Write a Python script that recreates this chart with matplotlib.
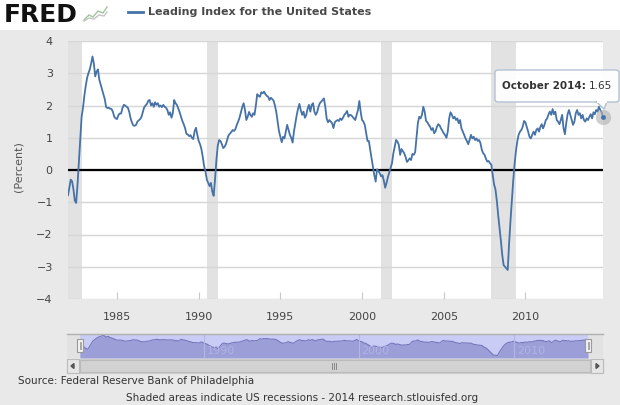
import matplotlib
matplotlib.use("Agg")
import matplotlib.pyplot as plt
from matplotlib.patches import Rectangle, FancyBboxPatch, Polygon
import numpy as np

# ---------------- data (monthly, Jan 1982 - Oct 2014) ----------------
start_year = 1982
leading_index = [
    -0.78, -0.55, -0.30, -0.35, -0.60, -0.95, -1.02, -0.45, 0.25, 1.00, 1.65, 1.92,   # 1982
    2.30, 2.60, 2.85, 3.00, 3.12, 3.30, 3.52, 3.30, 2.90, 3.05, 3.12, 2.80,           # 1983
    2.65, 2.50, 2.35, 2.20, 1.95, 1.92, 1.93, 1.90, 1.89, 1.80, 1.65, 1.60,           # 1984
    1.58, 1.70, 1.75, 1.75, 1.92, 2.02, 2.00, 1.96, 1.93, 1.80, 1.60, 1.47,           # 1985
    1.38, 1.37, 1.40, 1.50, 1.54, 1.58, 1.65, 1.80, 1.95, 2.00, 2.05, 2.15,           # 1986
    2.17, 2.00, 2.07, 1.96, 2.10, 2.02, 2.07, 1.96, 2.00, 1.95, 2.02, 1.96,           # 1987
    1.93, 1.86, 1.71, 1.79, 1.62, 1.76, 2.17, 2.07, 2.02, 1.91, 1.79, 1.65,           # 1988
    1.52, 1.42, 1.30, 1.12, 1.10, 1.05, 1.08, 1.00, 0.96, 1.20, 1.31, 1.09,           # 1989
    0.90, 0.80, 0.65, 0.40, 0.12, -0.05, -0.30, -0.40, -0.50, -0.40, -0.67, -0.80,    # 1990
    -0.30, 0.30, 0.75, 0.93, 0.90, 0.80, 0.68, 0.72, 0.80, 0.95, 1.08, 1.13,          # 1991
    1.18, 1.24, 1.21, 1.27, 1.40, 1.50, 1.62, 1.78, 1.95, 2.07, 1.86, 1.55,           # 1992
    1.65, 1.80, 1.71, 1.65, 1.76, 1.71, 2.00, 2.35, 2.30, 2.27, 2.41, 2.38,           # 1993
    2.43, 2.35, 2.30, 2.27, 2.17, 2.24, 2.20, 2.15, 2.00, 1.80, 1.50, 1.20,           # 1994
    1.03, 0.86, 1.03, 0.98, 1.19, 1.40, 1.24, 1.09, 1.00, 0.85, 1.20, 1.45,           # 1995
    1.70, 1.90, 2.05, 1.85, 1.71, 1.81, 1.62, 1.70, 1.90, 2.02, 1.81, 2.02,           # 1996
    2.07, 1.81, 1.71, 1.79, 1.96, 2.07, 2.12, 2.17, 2.22, 1.96, 1.60, 1.48,           # 1997
    1.55, 1.50, 1.45, 1.30, 1.48, 1.52, 1.55, 1.52, 1.60, 1.55, 1.62, 1.71,           # 1998
    1.76, 1.83, 1.65, 1.71, 1.70, 1.65, 1.60, 1.55, 1.71, 1.86, 2.14, 1.80,           # 1999
    1.55, 1.50, 1.40, 1.15, 0.90, 0.90, 0.62, 0.36, 0.10, -0.16, -0.36, 0.02,         # 2000
    -0.03, -0.10, -0.20, -0.16, -0.33, -0.55, -0.40, -0.22, -0.08, 0.05, 0.21, 0.52,  # 2001
    0.72, 0.93, 0.88, 0.78, 0.47, 0.65, 0.58, 0.52, 0.40, 0.25, 0.30, 0.36,           # 2002
    0.31, 0.50, 0.47, 0.55, 1.00, 1.45, 1.65, 1.60, 1.71, 1.96, 1.81, 1.52,           # 2003
    1.48, 1.40, 1.34, 1.24, 1.30, 1.14, 1.20, 1.34, 1.42, 1.38, 1.29, 1.22,           # 2004
    1.14, 1.08, 1.00, 1.20, 1.60, 1.79, 1.71, 1.60, 1.65, 1.55, 1.60, 1.45,           # 2005
    1.55, 1.29, 1.19, 1.09, 0.98, 0.90, 0.80, 0.93, 1.09, 0.98, 1.03, 0.93,           # 2006
    0.98, 0.90, 0.93, 0.83, 0.62, 0.52, 0.47, 0.35, 0.26, 0.28, 0.21, 0.16,           # 2007
    -0.16, -0.45, -0.60, -0.95, -1.40, -1.80, -2.20, -2.64, -2.95, -3.00, -3.05, -3.10,  # 2008
    -2.30, -1.60, -0.98, -0.36, 0.16, 0.57, 0.88, 1.09, 1.19, 1.24, 1.34, 1.52,       # 2009
    1.48, 1.34, 1.19, 1.03, 0.98, 1.09, 1.19, 1.09, 1.24, 1.29, 1.19, 1.34,           # 2010
    1.42, 1.29, 1.40, 1.55, 1.60, 1.73, 1.81, 1.71, 1.89, 1.73, 1.81, 1.55,           # 2011
    1.50, 1.42, 1.55, 1.71, 1.30, 1.11, 1.45, 1.73, 1.86, 1.71, 1.55, 1.40,           # 2012
    1.50, 1.76, 1.86, 1.71, 1.76, 1.60, 1.71, 1.55, 1.50, 1.60, 1.55, 1.65,           # 2013
    1.73, 1.60, 1.79, 1.73, 1.86, 1.81, 1.96, 1.86, 1.79, 1.65,                       # 2014
]
recession_starts = ["1981-07", "1990-07", "2001-03", "2007-12"]
recession_ends = ["1982-11", "1991-03", "2001-11", "2009-06"]
x_ticks = [1985, 1990, 1995, 2000, 2005, 2010]
y_ticks = [-4, -3, -2, -1, 0, 1, 2, 3, 4]
nav_labels = [1990, 2000, 2010]
series_name = "Leading Index for the United States"
tooltip_date = "October 2014"
tooltip_value = "1.65"


def ym(s):
    y, m = s.split("-")
    return int(y) + (int(m) - 1) / 12.0


t = np.array([start_year + i / 12.0 for i in range(len(leading_index))])
v = np.array(leading_index)

W, H = 620, 405
LINE = "#4572a7"
PANEL = "#e9e9e9"

fig = plt.figure(figsize=(W / 100, H / 100), dpi=100, facecolor=PANEL)


def fx(x):
    return x / W


def fy(y):
    return 1 - y / H


def rect(x, y, w, h, z=1, **kw):
    fig.add_artist(Rectangle((fx(x), fy(y + h)), w / W, h / H,
                             transform=fig.transFigure, zorder=z, **kw))


def fline(xs, ys, **kw):
    fig.add_artist(plt.Line2D([fx(a) for a in xs], [fy(b) for b in ys],
                              transform=fig.transFigure, **kw))


# header
rect(0, 0, W, 30, z=-2, facecolor="white", edgecolor="none")
fig.text(fx(4), fy(15), "FRED", fontsize=18, fontweight="heavy", color="#111111",
         va="center", ha="left")
# small logo icon
fline([84, 89, 93, 98, 103, 107], [20, 15, 17, 11, 13, 7], color="#9fc59a", lw=1.0)
fline([84, 89, 94, 99, 104, 107], [21, 18, 19, 15, 16, 12], color="#c4c4c4", lw=1.0)
fline([128, 143], [12, 12], color=LINE, lw=2)
fig.text(fx(148), fy(12), series_name, fontsize=8, fontweight="bold",
         color="#4a4a4a", va="center", ha="left")

# main plot
ax = fig.add_axes([fx(68), fy(299), 535 / W, 258 / H])
ax.set_facecolor("white")
for s, e in zip(recession_starts, recession_ends):
    ax.axvspan(ym(s), ym(e), color="#e2e2e2", lw=0, zorder=0)
for yt in y_ticks:
    ax.axhline(yt, color="#d6d6d6", lw=1, zorder=1)
ax.axhline(0, color="black", lw=1.6, zorder=2)
ax.plot(t, v, color=LINE, lw=1.3, zorder=3)
# hover marker on the last point
ax.plot(t[-1], v[-1], "o", ms=11, color="#b0b0b0", alpha=0.6, zorder=4, mec="none",
        clip_on=False)
ax.plot(t[-1], v[-1], "o", ms=3.5, color=LINE, zorder=5, mec="none", clip_on=False)

ax.set_xlim(start_year, t[-1])
ax.set_ylim(-4, 4)
ax.set_xticks(x_ticks)
ax.set_yticks(y_ticks)
ax.tick_params(axis="x", length=5, direction="in", color="#c8c8c8", pad=9,
               labelsize=8, labelcolor="#444444")
ax.tick_params(axis="y", length=0, pad=11, labelsize=8, labelcolor="#444444")
for sp in ax.spines.values():
    sp.set_visible(False)
fig.text(fx(18), fy(167), "(Percent)", rotation=90, fontsize=8, color="#555555",
         ha="center", va="center")

# tooltip
tb = FancyBboxPatch((fx(495), fy(102)), 124 / W, 32 / H,
                    boxstyle="round,pad=0,rounding_size=0.006",
                    transform=fig.transFigure, facecolor="white", alpha=0.92,
                    edgecolor="#aebfd2", lw=1, zorder=6)
fig.add_artist(tb)
fig.add_artist(Polygon([(fx(596), fy(101.5)), (fx(604), fy(109)), (fx(607), fy(101.5))],
                       closed=True, transform=fig.transFigure, facecolor="white",
                       edgecolor="#aebfd2", lw=1, zorder=6))
fig.add_artist(Rectangle((fx(596.5), fy(102.5)), 10 / W, 2 / H,
                         transform=fig.transFigure, facecolor="white",
                         edgecolor="none", zorder=7))
t1 = fig.text(fx(502), fy(86), tooltip_date + ":", fontsize=7.5, fontweight="bold",
              color="#333333", va="center", ha="left", zorder=8)
fig.canvas.draw()
bb = t1.get_window_extent()
fig.text(bb.x1 / W + fx(3), fy(86), tooltip_value, fontsize=7.5, color="#333333",
         va="center", ha="left", zorder=8)

# navigator
rect(67, 334, 536, 24, z=-1, facecolor="#e2e2e2", edgecolor="none")
nav = fig.add_axes([fx(80), fy(358), 508 / W, 24 / H])
nav.set_facecolor("#c9ccf4")
nav.fill_between(t, v, -3.9, color="#9c9ed8", lw=0)
nav.plot(t, v, color="#7477bb", lw=0.8)
nav.set_xlim(start_year, t[-1])
nav.set_ylim(-3.9, 3.9)
nav.set_xticks([])
nav.set_yticks([])
for sp in nav.spines.values():
    sp.set_visible(False)
for yr in nav_labels:
    nav.axvline(yr, color="#b4b7e0", lw=0.8)
    nav.text(yr + 0.15, -1.6, str(yr), fontsize=8, color="#b0b3e3", va="center",
             ha="left")
fline([67, 603], [334, 334], color="#b0b0b0", lw=1, zorder=2)
for hx in (77, 585):
    rect(hx, 339, 6, 13, z=3, facecolor="#f2f2f2", edgecolor="#999999", lw=0.8)
    fline([hx + 2.5, hx + 2.5], [342, 349], color="#999999", lw=0.6, zorder=4)
    fline([hx + 4, hx + 4], [342, 349], color="#999999", lw=0.6, zorder=4)

# scrollbar
rect(67, 359, 536, 14, facecolor="#eeeeee", edgecolor="#cccccc", lw=0.8)
rect(80, 360, 510, 12, facecolor="#d2d2d2", edgecolor="#bbbbbb", lw=0.8)
rect(67, 359, 12, 14, facecolor="#e6e6e6", edgecolor="#bbbbbb", lw=0.8)
rect(591, 359, 12, 14, facecolor="#e6e6e6", edgecolor="#bbbbbb", lw=0.8)
fig.add_artist(Polygon([(fx(71), fy(366)), (fx(74), fy(363.5)), (fx(74), fy(368.5))],
                       transform=fig.transFigure, color="#555555"))
fig.add_artist(Polygon([(fx(599), fy(366)), (fx(596), fy(363.5)), (fx(596), fy(368.5))],
                       transform=fig.transFigure, color="#555555"))
for gx in (332, 334, 336):
    fline([gx, gx], [363, 369], color="#888888", lw=0.7)

# footer
fig.text(fx(18), fy(381), "Source: Federal Reserve Bank of Philadelphia", fontsize=7.5,
         color="#333333", va="center", ha="left")
fig.text(fx(302), fy(398),
         "Shaded areas indicate US recessions - 2014 research.stlouisfed.org",
         fontsize=7.5, color="#333333", va="center", ha="center")

fig.savefig("out.png", dpi=100, facecolor=PANEL)
